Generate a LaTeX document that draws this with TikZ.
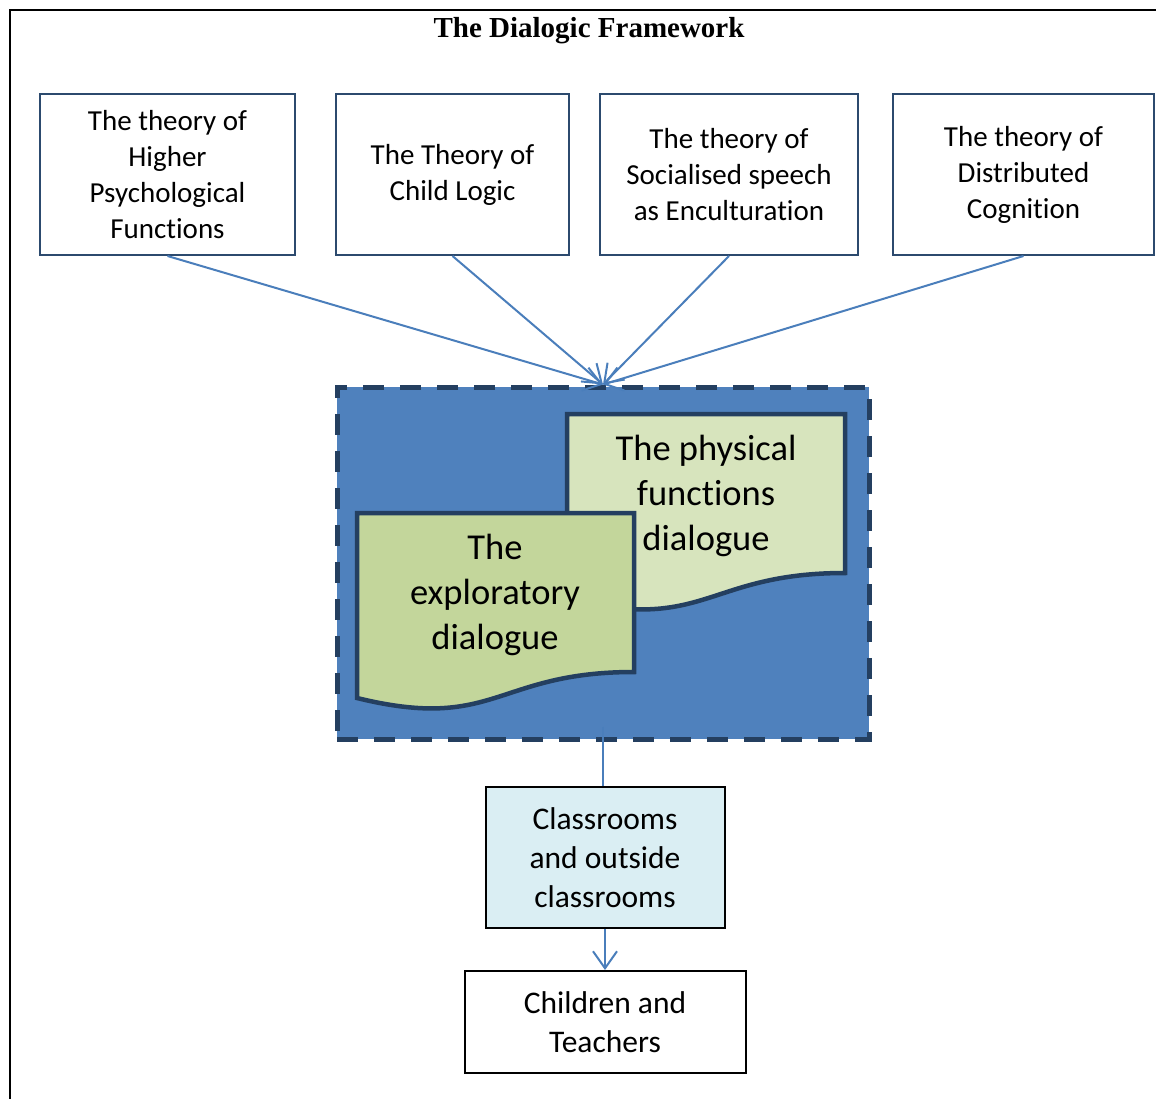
\documentclass[tikz,border=0pt]{standalone}
\usepackage{fontspec}
\setmainfont{Carlito}[Ligatures=NoCommon]
\newfontfamily\titlefont{Liberation Serif}
\usetikzlibrary{arrows.meta}
\usetikzlibrary{positioning}

\definecolor{boxline}{HTML}{2C4A6E}
\definecolor{docline}{HTML}{243F60}
\definecolor{arrowblue}{HTML}{4A7EBB}
\definecolor{panelblue}{HTML}{4F81BD}
\definecolor{docpale}{HTML}{D7E4BD}
\definecolor{docgreen}{HTML}{C3D69B}
\definecolor{roomblue}{HTML}{DAEEF3}

\begin{document}
\begin{tikzpicture}[x=1pt,y=-1pt,
  theory/.style={draw=boxline,line width=2pt,align=center,inner sep=0pt,
    minimum height=161pt,font=\fontsize{29}{36}\selectfont},
  link/.style={draw=arrowblue,line width=2pt},
  linkarrow/.style={link,-{Straight Barb[length=17pt,width=24pt]}},
  doctext/.style={align=center,font=\fontsize{36.5}{45}\selectfont},
  place/.style={draw=black,line width=2pt,align=center,inner sep=0pt,
    font=\fontsize{31.5}{39}\selectfont}]

\useasboundingbox (0,0) rectangle (1156,1099);
\draw[line width=2pt] (1160,10) -- (10,10) -- (10,1103);

\node[font=\titlefont\bfseries\fontsize{29}{34}\selectfont] (title) at (589,31) {The Dialogic Framework};

% the four theories
\node[theory,minimum width=255pt] (higher) at (167.5,174.5) {The theory of\\Higher\\Psychological\\Functions};
\node[theory,minimum width=233pt] (childlogic) at (452.5,174.5) {The Theory of\\Child Logic};
\node[theory,minimum width=258pt] (socialised) at (729,174.5) {The theory of\\Socialised speech\\as Enculturation};
\node[theory,minimum width=261pt] (distributed) at (1023.5,174.5) {The theory of\\Distributed\\Cognition};

% dashed panel with the two dialogues
\node[fill=panelblue,draw=docline,line width=5pt,dash pattern=on 21pt off 16pt,
  minimum width=532pt,minimum height=352pt,inner sep=0pt] (panel) at (603,563) {};

\filldraw[fill=docpale,draw=docline,line width=4.5pt]
(567,414) -- (845,414) -- (845,573) .. controls (706,573) and (706,633) .. (567,599) -- cycle;
\node[doctext] (physical) at (706,496) {The physical\\functions\\dialogue};

\filldraw[fill=docgreen,draw=docline,line width=4.5pt]
(357,513) -- (634,513) -- (634,672) .. controls (495.5,672) and (495.5,732) .. (357,698) -- cycle;
\node[doctext] (exploratory) at (495,595) {The\\exploratory\\dialogue};

\draw[linkarrow] (higher.south) -- (panel.north);
\draw[linkarrow] (childlogic.south) -- (panel.north);
\draw[linkarrow] (socialised.south) -- (panel.north);
\draw[linkarrow] (distributed.south) -- (panel.north);

% settings and people
\node[place,fill=roomblue,minimum width=239pt,minimum height=141pt] (rooms) at (605,857.5) {Classrooms\\and outside\\classrooms};
\node[place,fill=white,minimum width=281pt,minimum height=102pt] (people) at (605,1022) {Children and\\Teachers};

\draw[link] ([yshift=15pt]panel.south) -- (panel.south |- rooms.north);
\draw[linkarrow] (rooms.south) -- (people.north);
\end{tikzpicture}
\end{document}
